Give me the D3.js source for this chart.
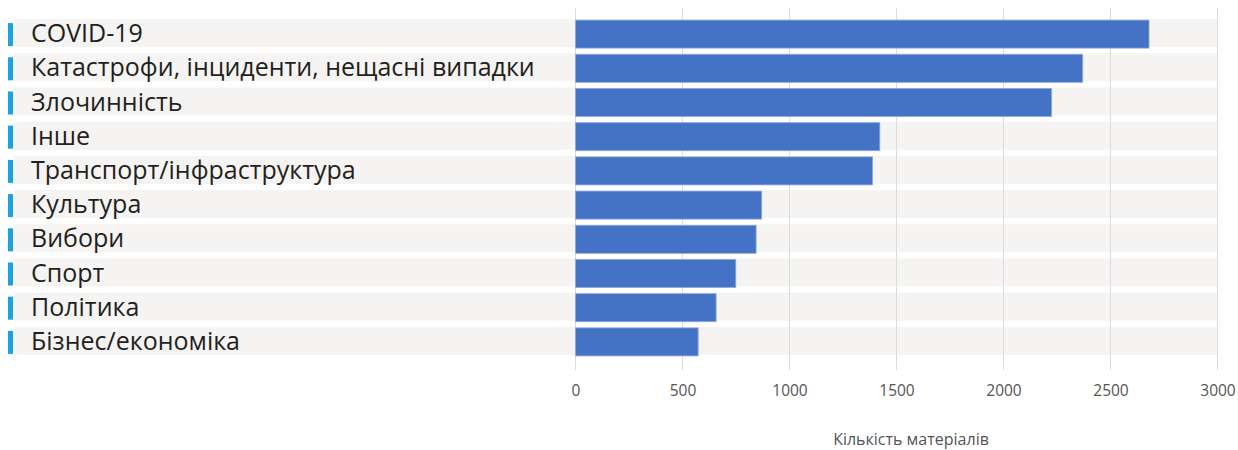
<!doctype html>
<html>
<head>
    <meta charset="utf-8"/>
    <style>
        html, body { margin: 0; padding: 0; background: #fff; }
        svg { display: block; }
        .label { font-family: "Open Sans", "Noto Sans", sans-serif; font-size: 25px; fill: #231f20; }
        .tick text { font-family: "Open Sans", "Noto Sans", sans-serif; font-size: 15.5px; fill: #555; }
        .axis-title { font-family: "Open Sans", "Noto Sans", sans-serif; font-size: 16px; fill: #555; }
    </style>
    <script src="https://d3js.org/d3.v7.min.js"></script>
</head>
<body>
<svg id="chart" width="1238" height="450"></svg>
<script>
    // Categories and counts, top to bottom
    var categories = [
        "COVID-19",
        "Катастрофи, інциденти, нещасні випадки",
        "Злочинність",
        "Інше",
        "Транспорт/інфраструктура",
        "Культура",
        "Вибори",
        "Спорт",
        "Політика",
        "Бізнес/економіка"
    ];
    var counts = [2680, 2370, 2225, 1422, 1388, 870, 844, 749, 657, 573];
    var tickValues = [0, 500, 1000, 1500, 2000, 2500, 3000];
    var axisTitle = "Кількість матеріалів";

    var svg = d3.select("#chart");

    var x = d3.scaleLinear().domain([0, 3000]).range([575.5, 1217.5]);
    var y = d3.scaleBand().domain(categories).range([16, 358]).paddingInner(0.18).paddingOuter(0.09);

    // Row backgrounds
    svg.selectAll(".row")
        .data(categories).enter()
        .append("rect")
        .attr("class", "row")
        .attr("x", 14)
        .attr("y", function(d) { return y(d); })
        .attr("width", x(3000) - 14)
        .attr("height", y.bandwidth())
        .attr("fill", "#f5f4f2");

    // Gridlines
    svg.selectAll(".grid")
        .data(tickValues).enter()
        .append("line")
        .attr("class", "grid")
        .attr("x1", function(d) { return x(d); })
        .attr("x2", function(d) { return x(d); })
        .attr("y1", 8)
        .attr("y2", 370)
        .attr("stroke", "#dcdcdc")
        .attr("stroke-width", 1);

    // Blue markers on the left
    svg.selectAll(".marker")
        .data(categories).enter()
        .append("rect")
        .attr("class", "marker")
        .attr("x", 8)
        .attr("y", function(d) { return y(d) + 4; })
        .attr("width", 5)
        .attr("height", y.bandwidth() - 5)
        .attr("fill", "#1aa3e0");

    // Labels
    svg.selectAll(".label")
        .data(categories).enter()
        .append("text")
        .attr("class", "label")
        .attr("x", 31)
        .attr("y", function(d) { return y(d) + y.bandwidth() / 2; })
        .attr("dy", "0.36em")
        .text(function(d) { return d; });

    // Bars
    svg.selectAll(".bar")
        .data(counts).enter()
        .append("rect")
        .attr("class", "bar")
        .attr("x", x(0))
        .attr("y", function(d, i) { return y(categories[i]) + 1; })
        .attr("width", function(d) { return x(d) - x(0); })
        .attr("height", y.bandwidth())
        .attr("fill", "#4472c4")
        .attr("stroke", "#8eaadc")
        .attr("stroke-width", 0.8);

    // X axis labels
    var axis = d3.axisBottom(x).tickValues(tickValues).tickFormat(d3.format("d")).tickSize(0).tickPadding(0);
    var g = svg.append("g").attr("transform", "translate(0,385)").call(axis);
    g.select(".domain").remove();
    g.selectAll(".tick text").attr("dy", "0.71em");

    svg.append("text")
        .attr("class", "axis-title")
        .attr("x", 911)
        .attr("y", 445)
        .attr("text-anchor", "middle")
        .text(axisTitle);
</script>
</body>
</html>
